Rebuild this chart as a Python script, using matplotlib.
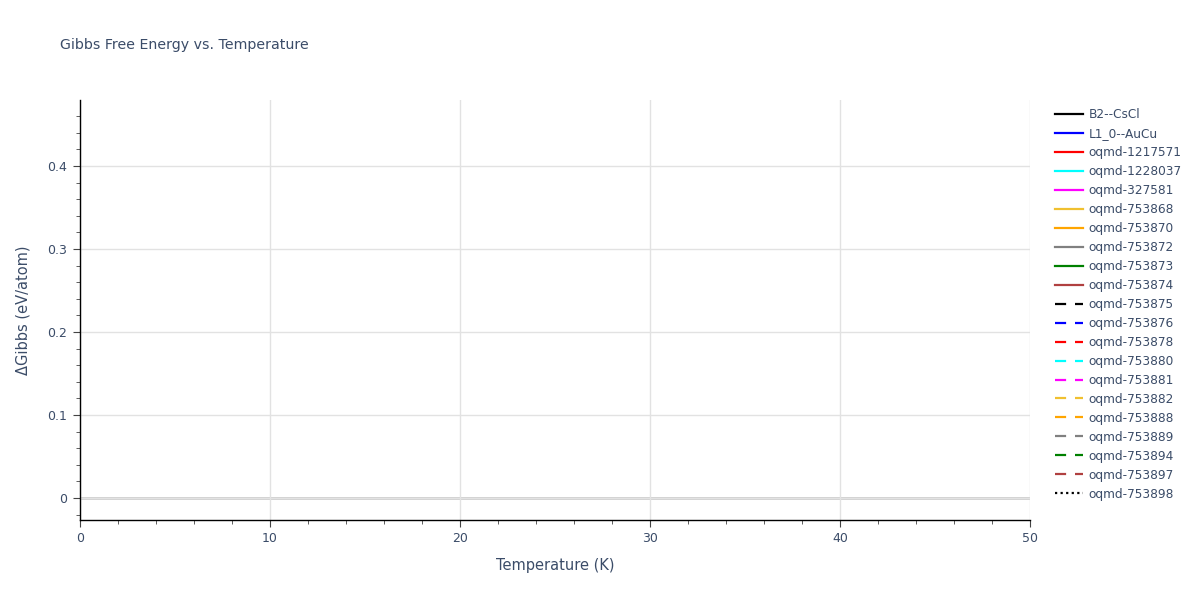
import numpy as np
import matplotlib
matplotlib.use('Agg')
import matplotlib.pyplot as plt
from matplotlib.ticker import MultipleLocator

# 구조별 이름 (그림에는 선이 보이지 않으므로 데이터는 비어 있음)
names = ['B2--CsCl', 'L1_0--AuCu', 'oqmd-1217571', 'oqmd-1228037', 'oqmd-327581',
         'oqmd-753868', 'oqmd-753870', 'oqmd-753872', 'oqmd-753873', 'oqmd-753874',
         'oqmd-753875', 'oqmd-753876', 'oqmd-753878', 'oqmd-753880', 'oqmd-753881',
         'oqmd-753882', 'oqmd-753888', 'oqmd-753889', 'oqmd-753894', 'oqmd-753897',
         'oqmd-753898']
colors = ['black', 'blue', 'red', 'cyan', 'magenta', '#f0c030', 'orange', 'grey',
          'green', '#b04040', 'black', 'blue', 'red', 'cyan', 'magenta', '#f0c030',
          'orange', 'grey', 'green', '#b04040', 'black']
styles = ['-'] * 10 + [(0, (5, 4))] * 10 + [(0, (1, 1.5))]

temps = []
gibbs = []

xticks = [0, 10, 20, 30, 40, 50]
yticks = [0, 0.1, 0.2, 0.3, 0.4]

text_color = '#3b4c68'
plt.rcParams['font.family'] = ['DejaVu Sans']

fig = plt.figure(figsize=(12, 6), dpi=100)
ax = fig.add_axes([80 / 1200, 80 / 600, 950 / 1200, 420 / 600])

for name, c, ls in zip(names, colors, styles):
    ax.plot(temps, gibbs, color=c, linestyle=ls, linewidth=1.6, label=name)

ax.set_xticks(xticks)
ax.set_xticklabels([str(v) for v in xticks])
ax.set_yticks(yticks)
ax.set_yticklabels(['0', '0.1', '0.2', '0.3', '0.4'])
ax.xaxis.set_minor_locator(MultipleLocator(2))
ax.yaxis.set_minor_locator(MultipleLocator(0.02))
ax.set_xlim(0, 50)
ax.set_ylim(-0.0265, 0.4795)

ax.grid(True, which='major', color='#e2e2e2', linewidth=1)
ax.axhline(0, color='#cccccc', linewidth=2, zorder=1)

for side in ['top', 'right']:
    ax.spines[side].set_visible(False)
for side in ['left', 'bottom']:
    ax.spines[side].set_color('black')
    ax.spines[side].set_linewidth(1)

ax.tick_params(which='major', length=5, color='#444444', labelsize=9, labelcolor=text_color, pad=4)
ax.tick_params(which='minor', length=3, color='#444444')

ax.set_xlabel('Temperature (K)', fontsize=10.5, color=text_color, labelpad=9)
ax.set_ylabel('ΔGibbs (eV/atom)', fontsize=10.5, color=text_color, labelpad=12)
fig.text(60 / 1200, 1 - 45 / 600, 'Gibbs Free Energy vs. Temperature',
         fontsize=10.2, color=text_color, va='center', ha='left')

leg = fig.legend(loc='upper left', bbox_to_anchor=(1055 / 1200, 1 - 108 / 600),
                 frameon=False, fontsize=8.7, handlelength=2.3, handletextpad=0.5,
                 labelspacing=0.495, borderaxespad=0, borderpad=0)
for t in leg.get_texts():
    t.set_color(text_color)

plt.savefig('out.png')
